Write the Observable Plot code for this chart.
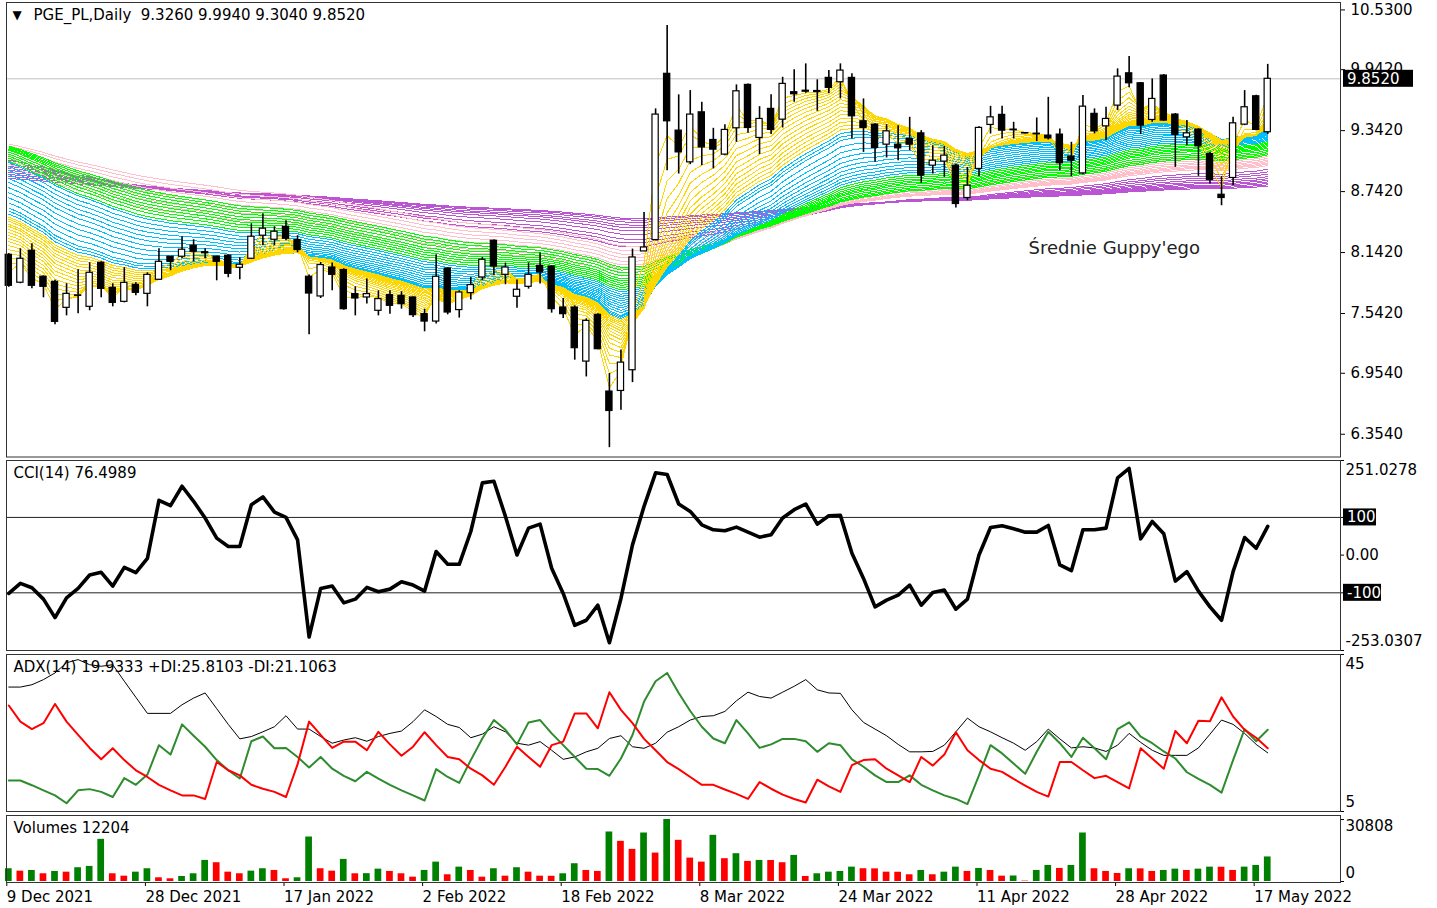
<!DOCTYPE html>
<html><head><meta charset="utf-8">
<script src="https://cdn.jsdelivr.net/npm/d3@7"></script>
<script src="https://cdn.jsdelivr.net/npm/@observablehq/plot@0.6"></script>
<style>
html,body{margin:0;padding:0;background:#fff;overflow:hidden;}
#chart{position:relative;width:1437px;height:908px;overflow:hidden;background:#fff;}
#chart svg{position:absolute;left:0;max-width:none;}
</style></head><body><div id="chart"></div>
<script>
// ---------- DATA ----------
const open = [8.120,7.845,8.160,7.904,7.854,7.598,7.720,7.608,8.042,7.795,7.657,7.825,7.736,7.874,8.101,8.101,8.209,8.145,8.101,8.111,
7.992,8.081,8.308,8.268,8.396,8.265,7.904,7.710,7.995,7.970,7.733,7.700,7.569,7.723,7.716,7.700,7.536,7.463,7.985,7.576,
7.743,7.897,8.258,7.923,7.707,7.805,8.012,8.005,7.601,7.601,7.069,7.529,6.774,6.780,6.984,8.153,8.265,9.901,9.342,9.030,
9.522,9.250,9.106,9.365,9.792,9.270,9.556,9.450,9.720,9.735,9.732,9.861,9.818,9.861,9.434,9.401,9.204,9.204,9.260,9.315,
8.997,9.037,8.997,8.679,8.965,9.398,9.497,9.352,9.318,9.312,9.293,9.303,9.086,8.921,9.507,9.384,9.588,9.906,9.808,9.447,
9.884,9.500,9.276,9.352,9.112,8.711,8.876,9.401,9.680,9.326];
const high = [8.130,8.179,8.229,7.913,7.870,7.835,7.973,8.042,8.050,7.835,7.993,7.844,7.943,8.179,8.105,8.298,8.268,8.179,8.105,8.120,
8.091,8.426,8.524,8.396,8.455,8.308,7.920,8.044,8.039,7.982,7.805,7.881,7.766,7.766,7.756,7.705,7.585,8.120,7.990,7.766,
7.897,8.094,8.266,8.039,7.871,8.039,8.137,8.010,7.690,7.618,7.490,7.539,6.951,7.184,8.176,8.537,9.556,10.376,9.694,9.736,
9.621,9.365,9.401,9.792,9.800,9.578,9.694,9.867,9.940,9.999,9.842,9.933,9.999,9.901,9.654,9.410,9.401,9.391,9.473,9.342,
9.194,9.187,9.014,8.980,9.381,9.581,9.581,9.424,9.320,9.467,9.670,9.359,9.227,9.687,9.556,9.572,9.950,10.071,9.815,9.851,
9.894,9.510,9.441,9.360,9.128,8.889,9.473,9.736,9.690,9.994];
const low = [7.800,7.835,7.785,7.697,7.431,7.519,7.539,7.569,7.697,7.608,7.647,7.716,7.608,7.870,7.963,8.081,8.051,8.081,7.864,7.894,
7.874,8.075,8.209,8.209,8.258,8.140,7.332,7.690,7.766,7.575,7.519,7.635,7.519,7.536,7.585,7.503,7.362,7.438,7.529,7.497,
7.674,7.864,7.913,7.825,7.595,7.782,7.832,7.546,7.493,7.083,6.918,7.185,6.222,6.590,6.862,8.153,8.265,8.948,8.915,9.007,
8.997,8.965,9.096,9.227,9.315,9.106,9.303,9.368,9.621,9.709,9.532,9.704,9.654,9.260,9.128,9.030,9.073,9.046,9.145,8.823,
8.915,8.882,8.580,8.652,8.889,9.309,9.260,9.260,9.310,9.234,9.250,8.948,8.889,8.908,9.309,9.244,9.539,9.763,9.303,9.424,
9.434,8.980,9.194,8.892,8.817,8.603,8.800,9.391,9.342,9.304];
const close = [7.815,8.081,7.815,7.805,7.460,7.736,7.716,7.943,7.785,7.647,7.844,7.746,7.923,8.051,8.051,8.170,8.150,8.135,8.051,7.933,
8.022,8.298,8.377,8.347,8.278,8.167,7.739,8.019,7.923,7.585,7.690,7.733,7.684,7.618,7.634,7.526,7.463,7.904,7.552,7.749,
7.822,8.071,8.005,7.995,7.776,7.923,7.946,7.585,7.536,7.201,7.470,7.191,6.583,7.059,8.094,8.192,9.500,9.434,9.128,9.500,
9.177,9.155,9.349,9.729,9.368,9.457,9.349,9.802,9.700,9.725,9.722,9.763,9.933,9.483,9.369,9.172,9.335,9.168,9.204,8.899,
9.046,9.096,8.620,8.800,9.369,9.473,9.342,9.346,9.314,9.306,9.266,9.020,9.046,9.578,9.335,9.457,9.874,9.808,9.391,9.654,
9.441,9.300,9.315,9.187,8.856,8.679,9.414,9.572,9.349,9.852];
const volume = [6340,5140,5490,3840,4990,4640,6840,7490,20960,3840,2650,4640,6340,1850,1350,2500,3840,10480,9330,4640,
3840,5140,6340,5490,1350,1850,22110,6340,5140,10980,3840,3900,6140,4990,3840,2150,5490,9630,3340,7140,
5490,2150,6340,2650,6840,4640,2650,2600,3840,8830,5490,4990,24600,19960,15970,24100,14120,30808,20460,11630,
9630,22950,11330,13820,9980,10480,10430,9330,12970,2500,3840,4640,4990,7140,6340,6290,4640,4590,3340,5490,
3340,4640,7140,4990,6490,5490,2650,2740,200,5490,7980,6490,7980,24100,6340,4990,3990,6340,6290,4990,
5490,6140,5480,6140,7140,7090,5490,7140,7980,12204];
const cci = [-101.7,-75,-86.6,-116.8,-165.7,-113.3,-88.3,-52.8,-45.6,-82.1,-32.4,-46.6,-8.4,145.4,131.2,182.7,142.7,98.3,45,22.7,
22.7,133.9,154.3,114.3,100,40.5,-217.3,-88.3,-82.1,-126.6,-116.8,-85.7,-97.3,-90.2,-70.7,-79.5,-95.5,9.4,-24.3,-24.3,
62.7,191.6,196,102.7,0.5,71.6,82.3,-35,-101.7,-186.1,-172.8,-132.8,-232.4,-115,27.2,129.4,218.3,213.9,135.6,116,
80.5,67.2,64.5,74.3,60.9,47.6,53.9,98.3,120.5,135.6,82.3,104.5,105.4,5,-61.7,-137.2,-119.5,-106,-79.5,-132.8,
-99,-92.8,-143.5,-116.8,0.5,73.4,77.9,69.9,60.9,60.9,78.7,-26.1,-41.2,67.2,67.2,71.6,205,229.9,43.2,89.4,
56.5,-68.8,-43.9,-95.5,-137.2,-172.8,-43.9,46.8,18.3,76.4989];
const adx = [36.7,36.7,37.3,38.6,40.3,42.9,43.7,42.4,42,42.4,38.2,34.1,30,30,30,32.2,33.9,35.2,31.2,27.2,
23.5,24.1,25.3,26.6,29.4,26,26,24.1,22.4,23.2,23.8,22.9,24.1,24.9,25.5,27.9,30.9,29.2,27.2,26.4,
23.8,24.7,26.6,25.3,22.4,21.9,22.8,20.6,18.3,18.9,20.2,21.1,23.6,24.3,21.5,21.1,22.4,25.2,26.6,28.3,
29.2,29.4,30.5,33.2,35.4,34.3,33.9,35.4,36.9,38.6,36,35.2,35.1,30.9,27.7,26,24.3,22.1,20.2,20.2,
20.3,21.9,25.3,28.8,26.6,25.3,23.8,22.4,20.6,22.8,26,23.5,21.2,21.5,21.2,20.3,21.9,24.9,22.6,20.6,
19.3,19.3,19.3,21.2,24.7,28.3,27.2,24.9,22.1,19.9333];
const plusDI = [12.9,12.9,11.7,10.4,9.1,7.1,10.4,10.7,10,8.7,13.5,11.8,14.4,21.9,19.5,27.2,24.3,21.5,18.1,15.5,
13.4,22.9,24.1,21.1,21.2,18.9,16.2,18.9,15.9,14.1,12.7,15.1,13.4,11.8,10.4,9.1,7.8,15.8,13.8,12.3,
18.1,23.6,28.3,25.8,22.1,27.7,28.3,24.9,21.9,18.9,15.9,15.8,14.1,18.5,24.5,33,38.2,40.3,35.2,30.6,
26.6,23.6,22.4,28.3,24.9,21.2,22.1,23.5,23.5,22.9,20.2,22.4,21.9,18.3,16.4,14.2,12.5,12.5,14.2,11.8,
10.4,9.1,8.2,6.9,14.2,21.9,19.8,17.2,14.6,20.2,25.3,22.4,18.9,23.8,21.1,18.3,26,27.7,24.1,22.4,
20.3,18.5,15,13.3,11.8,9.8,18.1,26,22.9,25.8103];
const minusDI = [32,27.9,26,27.5,32.4,27.9,24.5,21.2,18.3,21.1,18.1,15.5,13.8,11.8,10.4,9.1,9.1,8.2,17.6,15.5,
14.2,11.8,10.8,10,8.7,17,27.9,24.5,21.2,22.8,22.8,20.6,25.3,22.1,19.2,21.5,25.2,21.9,18.9,18.3,
15.9,14.2,11.8,16.4,21.5,18.9,16.4,21.9,22.8,30,30,26.2,35.4,30.9,27.5,23.5,20.6,17.6,15.8,13.8,
11.8,11.8,10.6,9.5,8.2,12.5,10.8,9.3,8.2,7.3,13.1,11.4,10,16.8,18.1,18.3,15.9,14.2,12.5,18.9,
16.7,19.5,25.2,20.6,18.1,15.9,15.1,13.3,11.6,10,8.8,17.6,17.6,15.5,13.5,14.1,12.5,10.9,21.1,18.5,
15.9,25.5,22.4,28.1,28,34.1,29.2,25.8,23.8,21.1063];

// Guppy ribbon: EMA periods per colour group and their values read at the first bar
const yellowPeriods = [2,3,4,5,6,7,8,9,10,11,12,13,14,15,16,17];
const yellowSeeds   = [7.95,8.02,8.08,8.13,8.17,8.21,8.25,8.28,8.31,8.34,8.37,8.40,8.42,8.45,8.47,8.49];
const bluePeriods   = [18,19,20,22,24,26,28,30,32,34,36,38,40];
const blueSeeds     = [8.52,8.55,8.58,8.63,8.68,8.73,8.78,8.83,8.87,8.91,8.95,8.99,9.03];
const greenPeriods  = [42,44,46,48,50,52,55,58,61,64];
const greenSeeds    = [9.04,9.07,9.09,9.11,9.13,9.15,9.16,9.17,9.18,9.19];
const pinkPeriods   = [58,62,66,70,74,78,82,86,92];
const pinkSeeds     = [8.98,9.01,9.04,9.07,9.10,9.13,9.16,9.19,9.21];
const purplePeriods = [100,110,120,135,150,165,180,200,220,240];
const purpleSeeds   = [9.05,9.03,9.01,8.99,8.97,8.95,8.93,8.91,8.89,8.87];

const priceTicks = [10.53,9.942,9.342,8.742,8.142,7.542,6.954,6.354];
const cciLevels  = [100,-100];
const tickIndex  = [0,12,24,36,48,60,72,84,96,108];
const tickLabels = ["9 Dec 2021","28 Dec 2021","17 Jan 2022","2 Feb 2022","18 Feb 2022","8 Mar 2022","24 Mar 2022","11 Apr 2022","28 Apr 2022","17 May 2022"];

const symbol = "PGE_PL,Daily";
const guppyLabel = "Średnie Guppy'ego";

// ---------- BUILD ----------
const W = 1437;
const FONT = "'DejaVu Sans', Verdana, sans-serif";
const xDomain = [-0.2, 115.3];
const mL = 6, mR = 97;
const n = close.length;
const bars = d3.range(n).map(i => ({i, o: open[i], h: high[i], l: low[i], c: close[i]}));
const up = bars.filter(d => d.c >= d.o), down = bars.filter(d => d.c < d.o);
const f4 = d3.format(".4f");

function emaSeries(p, seed) {
  const a = 2 / (p + 1); let e = seed;
  return close.map((c, i) => (i === 0 ? e : (e = e + a * (c - e))));
}
const groups = [
  {color: "#BA55D3", periods: purplePeriods, seeds: purpleSeeds},
  {color: "#FFC0CB", periods: pinkPeriods, seeds: pinkSeeds},
  {color: "#00FF00", periods: greenPeriods, seeds: greenSeeds},
  {color: "#00BFFF", periods: bluePeriods, seeds: blueSeeds},
  {color: "#FFD700", periods: yellowPeriods, seeds: yellowSeeds}
];
const ribbonMarks = groups.map(g => {
  const rows = [];
  g.periods.forEach((p, k) => emaSeries(p, g.seeds[k]).forEach((v, i) => rows.push({i, v, k: p})));
  return Plot.line(rows, {x: "i", y: "v", z: "k", stroke: g.color, strokeWidth: 1, clip: true, shapeRendering: "crispEdges"});
});

const chart = document.getElementById("chart");
const baseStyle = {fontFamily: FONT, fontSize: "15px", background: "transparent", color: "#000", overflow: "visible"};
function place(svg, top) { svg.style.top = top + "px"; chart.appendChild(svg); return svg; }
function box(svg, plot, value, label, x0, w) {
  const y = plot.scale("y").apply(value);
  const g = d3.select(svg).append("g");
  g.append("rect").attr("x", x0).attr("y", y - 8.5).attr("width", w).attr("height", 17).attr("fill", "#000");
  g.append("text").attr("x", x0 + 4).attr("y", y).attr("dy", "0.36em").attr("fill", "#fff")
    .attr("text-anchor", "start").attr("font-family", FONT).attr("font-size", 15).text(label);
}
const rightLabel = (values, fmt, dy) => Plot.text(values, {y: d => d, frameAnchor: "right", dx: 5, dy, textAnchor: "start", text: fmt, fontSize: 15});
const paneTitle = (txt) => Plot.text([txt], {frameAnchor: "top-left", dx: 7, dy: 13, lineAnchor: "middle", textAnchor: "start", fontSize: 15});

// Price pane
const last = bars[n - 1];
const price = Plot.plot({
  width: W, height: 459, marginLeft: mL, marginRight: mR, marginTop: 2, marginBottom: 2.5,
  x: {domain: xDomain, axis: null},
  y: {domain: [6.130, 10.603], axis: null},
  style: baseStyle,
  marks: [
    ...ribbonMarks,
    Plot.ruleY([last.c], {stroke: "#c0c0c0", strokeWidth: 1}),
    Plot.ruleX(bars, {x: "i", y1: "l", y2: "h", stroke: "#000", strokeWidth: 1.6}),
    Plot.rect(up, {x1: d => d.i - 0.27, x2: d => d.i + 0.27, y1: "o", y2: "c", fill: "#fff", stroke: "#000", strokeWidth: 1.2}),
    Plot.rect(down, {x1: d => d.i - 0.27, x2: d => d.i + 0.27, y1: "o", y2: "c", fill: "#000", stroke: "#000", strokeWidth: 1.2}),
    Plot.axisY({anchor: "right", label: null, ticks: priceTicks, tickFormat: f4, tickSize: 4, tickPadding: 6, fontSize: 15}),
    Plot.frame({stroke: "#333", strokeWidth: 1}),
    Plot.text(["▼"], {frameAnchor: "top-left", dx: 6, dy: 13, lineAnchor: "middle", textAnchor: "start", fontSize: 12}),
    Plot.text([`${symbol}\u00a0\u00a0${f4(last.o)} ${f4(last.h)} ${f4(last.l)} ${f4(last.c)}`],
      {frameAnchor: "top-left", dx: 27, dy: 13, lineAnchor: "middle", textAnchor: "start", fontSize: 15}),
    Plot.text([guppyLabel], {frameAnchor: "top-left", dx: 1022, dy: 246, lineAnchor: "middle", textAnchor: "start", fontSize: 18, fill: "#222"})
  ]
});
place(price, 0);
box(price, price, last.c, f4(last.c), 1343, 70);

// CCI pane
const cciRows = cci.map((v, i) => ({i, v}));
const cciMin = -253.0307, cciMax = 251.0278;
const cciPlot = Plot.plot({
  width: W, height: 193, marginLeft: mL, marginRight: mR, marginTop: 1, marginBottom: 2,
  x: {domain: xDomain, axis: null},
  y: {domain: [cciMin, cciMax], axis: null},
  style: baseStyle,
  marks: [
    Plot.ruleY(cciLevels, {stroke: "#222", strokeWidth: 1}),
    Plot.line(cciRows, {x: "i", y: "v", stroke: "#000", strokeWidth: 3.6, strokeLinejoin: "round"}),
    Plot.axisY({anchor: "right", label: null, ticks: [cciMax, 100, 0, -100, cciMin], tickSize: 3, tickFormat: () => ""}),
    rightLabel([cciMax], d => d.toFixed(4), 10),
    rightLabel([0], d => d.toFixed(2), 0),
    rightLabel([cciMin], d => d.toFixed(4), -9),
    Plot.frame({stroke: "#333", strokeWidth: 1}),
    paneTitle(`CCI(14) ${cci[n - 1].toFixed(4)}`)
  ]
});
place(cciPlot, 459);
box(cciPlot, cciPlot, cciLevels[0], String(cciLevels[0]), 1343, 33);
box(cciPlot, cciPlot, cciLevels[1], String(cciLevels[1]), 1343, 38);

// ADX pane
const adxRows = adx.map((v, i) => ({i, v}));
const pRows = plusDI.map((v, i) => ({i, v}));
const mRows = minusDI.map((v, i) => ({i, v}));
const adxPlot = Plot.plot({
  width: W, height: 160, marginLeft: mL, marginRight: mR, marginTop: 1, marginBottom: 2,
  x: {domain: xDomain, axis: null},
  y: {domain: [5, 45], axis: null},
  style: baseStyle,
  marks: [
    Plot.line(adxRows, {x: "i", y: "v", stroke: "#000", strokeWidth: 1}),
    Plot.line(pRows, {x: "i", y: "v", stroke: "#2e8b2e", strokeWidth: 2}),
    Plot.line(mRows, {x: "i", y: "v", stroke: "#ff0000", strokeWidth: 2}),
    Plot.axisY({anchor: "right", label: null, ticks: [45, 5], tickSize: 3, tickFormat: () => ""}),
    rightLabel([45], d => `${d}`, 10),
    rightLabel([5], d => `${d}`, -9),
    Plot.frame({stroke: "#333", strokeWidth: 1}),
    paneTitle(`ADX(14) ${adx[n - 1].toFixed(4)} +DI:${plusDI[n - 1].toFixed(4)} -DI:${minusDI[n - 1].toFixed(4)}`)
  ]
});
place(adxPlot, 653);

// Volume pane
const volRows = volume.map((v, i) => ({i, v, upv: i === 0 || v > volume[i - 1]}));
const vMax = d3.max(volume);
const volPlot = Plot.plot({
  width: W, height: 95, marginLeft: mL, marginRight: mR, marginTop: 2, marginBottom: 26,
  x: {domain: xDomain, axis: null},
  y: {domain: [0, vMax], range: [68, 6], axis: null},
  style: baseStyle,
  marks: [
    Plot.rect(volRows.filter(d => d.upv), {x1: d => d.i - 0.29, x2: d => d.i + 0.29, y1: 0, y2: "v", fill: "#008000"}),
    Plot.rect(volRows.filter(d => !d.upv), {x1: d => d.i - 0.29, x2: d => d.i + 0.29, y1: 0, y2: "v", fill: "#ff0000"}),
    Plot.axisY({anchor: "right", label: null, ticks: [vMax, 0], tickSize: 3, tickFormat: () => ""}),
    rightLabel([vMax], d => `${d}`, 7),
    rightLabel([0], d => `${d}`, -8),
    Plot.axisX({ticks: tickIndex, label: null, tickFormat: d => tickLabels[tickIndex.indexOf(d)], tickSize: 4, tickPadding: 5,
      textAnchor: "start", dx: -2, fontSize: 15}),
    Plot.frame({stroke: "#333", strokeWidth: 1}),
    paneTitle(`Volumes ${volume[n - 1]}`)
  ]
});
place(volPlot, 813);
</script></body></html>
